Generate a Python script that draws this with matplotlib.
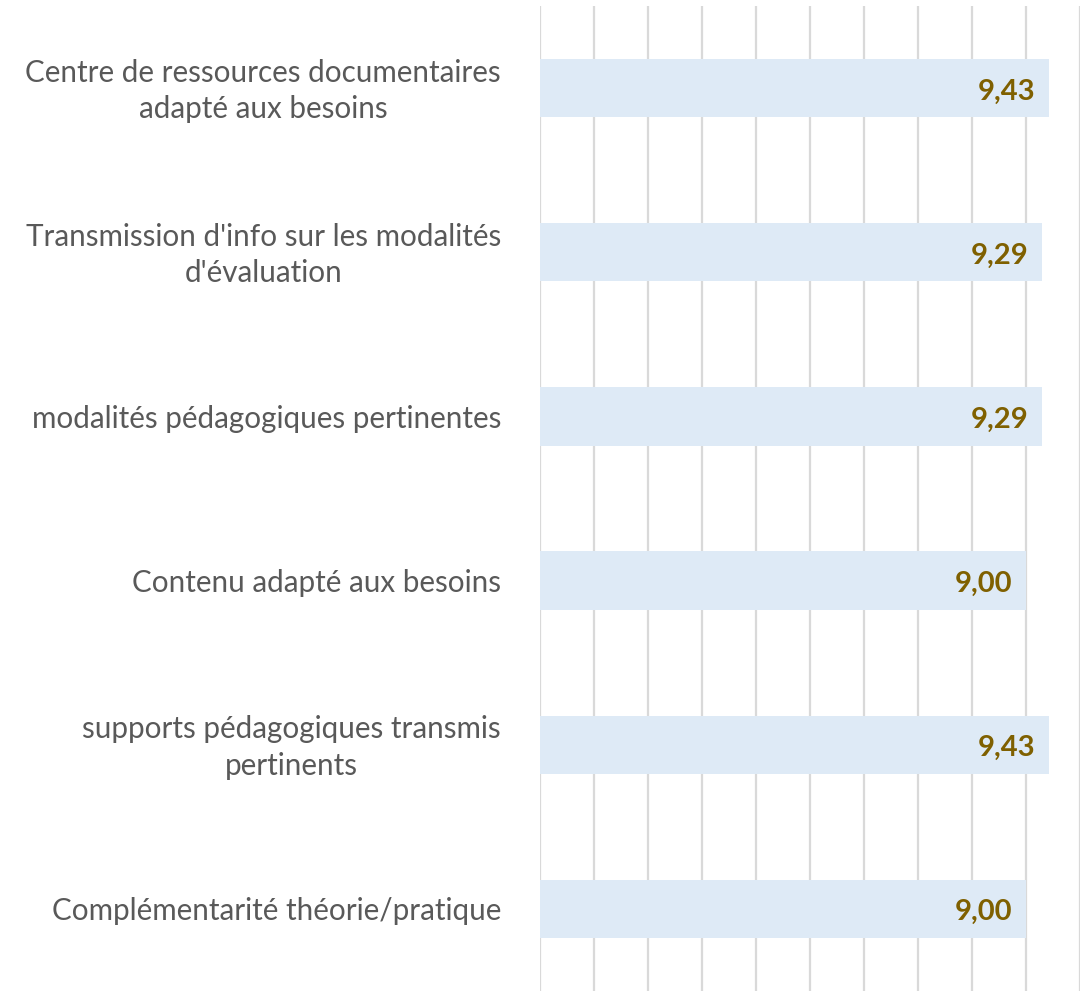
import matplotlib.pyplot as plt
from matplotlib.transforms import ScaledTranslation

categories = [
    "Centre de ressources documentaires\nadapté aux besoins",
    "Transmission d'info sur les modalités\nd'évaluation",
    "modalités pédagogiques pertinentes",
    "Contenu adapté aux besoins",
    "supports pédagogiques transmis\npertinents",
    "Complémentarité théorie/pratique",
]
scores = [9.43, 9.29, 9.29, 9.00, 9.43, 9.00]

plt.rcParams['font.family'] = ['Lato', 'DejaVu Sans']

fig = plt.figure(figsize=(10.82, 9.91), dpi=100)
ax = fig.add_axes([540 / 1082, 0.0, 540 / 1082, 985 / 991])

pos = list(range(len(categories)))
ax.barh(pos, scores, height=0.355, color='#DEEAF6', zorder=2)
ax.set_xlim(0, 10)
ax.set_ylim(-0.5, len(categories) - 0.5)
ax.invert_yaxis()

ax.set_xticks(range(0, 11))
ax.set_xticklabels([])
ax.xaxis.grid(True, color='#D9D9D9', linewidth=1.6, zorder=0)
ax.set_axisbelow(True)
ax.tick_params(axis='both', length=0)
ax.tick_params(axis='y', pad=28)
ax.set_yticks(pos)
ax.set_yticklabels(categories, fontsize=21.3, color='#595959', linespacing=1.38)
for lbl in ax.get_yticklabels():
    lbl.set_multialignment('center')
    if '\n' in lbl.get_text():
        # two-line labels sit a little higher in the original
        lbl.set_transform(lbl.get_transform() +
                          ScaledTranslation(0, 4 / 100, fig.dpi_scale_trans))

for sp in ax.spines.values():
    sp.set_visible(False)

for i, v in enumerate(scores):
    ax.text(v - 0.25, i + 0.02, f"{v:.2f}".replace('.', ','), ha='right', va='center',
            fontsize=21, fontweight='bold', color='#7F6000', zorder=3)

fig.savefig('out.png', dpi=100)
